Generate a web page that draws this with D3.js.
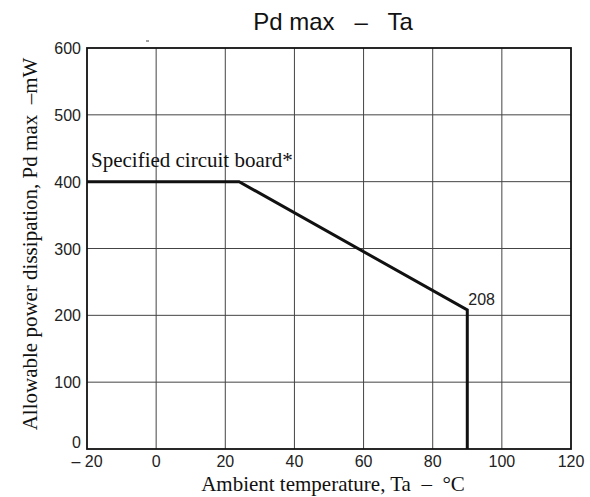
<!DOCTYPE html>
<meta charset="utf-8">
<style>
  body { margin: 0; background: #fff; }
  .sans { font-family: "Liberation Sans", Arial, sans-serif; }
  .serif { font-family: "Liberation Serif", "Times New Roman", serif; }
  .grid line { stroke: #444; stroke-width: 1; }
</style>
<script src="https://d3js.org/d3.v7.min.js"></script>
<svg width="590" height="497"></svg>
<script>
  // derating curve, Ta (°C) vs Pd max (mW)
  var ta = [-20, 24, 90, 90];
  var pd = [400, 400, 208, 0];
  var xTicks = [-20, 0, 20, 40, 60, 80, 100, 120];
  var yTicks = [0, 100, 200, 300, 400, 500, 600];

  var svg = d3.select("svg");
  var pl = 87, pr = 571, pt = 48, pb = 449;

  var x = d3.scaleLinear().domain([-20, 120]).range([pl, pr]);
  var y = d3.scaleLinear().domain([0, 600]).range([pb, pt]);

  var grid = svg.append("g").attr("class", "grid");
  grid.selectAll(".vx").data(xTicks.slice(1, -1)).enter().append("line")
    .attr("x1", d => x(d)).attr("x2", d => x(d))
    .attr("y1", pt).attr("y2", pb);
  grid.selectAll(".hy").data(yTicks.slice(1, -1)).enter().append("line")
    .attr("x1", pl).attr("x2", pr)
    .attr("y1", d => y(d)).attr("y2", d => y(d));

  svg.append("rect")
    .attr("x", pl).attr("y", pt)
    .attr("width", pr - pl).attr("height", pb - pt)
    .attr("fill", "none").attr("stroke", "#111").attr("stroke-width", 1.8);

  // tick labels
  svg.selectAll(".xt").data(xTicks).enter().append("text")
    .attr("class", "sans")
    .attr("x", d => x(d)).attr("y", pb + 18)
    .attr("text-anchor", "middle").attr("font-size", 16).attr("fill", "#222")
    .text(d => d < 0 ? "\u2013 " + Math.abs(d) : d);
  svg.selectAll(".yt").data(yTicks).enter().append("text")
    .attr("class", "sans")
    .attr("x", pl - 6).attr("y", d => d === 0 ? y(d) - 1 : y(d) + 6)
    .attr("text-anchor", "end").attr("font-size", 16).attr("fill", "#222")
    .text(d => d);

  var pts = ta.map((t, i) => [t, pd[i]]);
  var line = d3.line().x(d => x(d[0])).y(d => y(d[1]));
  svg.append("path").datum(pts)
    .attr("d", line)
    .attr("fill", "none").attr("stroke", "#111")
    .attr("stroke-width", 3).attr("stroke-linejoin", "miter");

  svg.append("text").attr("class", "serif")
    .attr("x", x(-20) + 4).attr("y", y(400) - 15)
    .attr("font-size", 21).attr("fill", "#111")
    .text("Specified circuit board*");

  svg.append("text").attr("class", "sans")
    .attr("x", x(ta[2]) + 1).attr("y", y(pd[2]) - 5)
    .attr("font-size", 16).attr("fill", "#222")
    .text(pd[2]);

  // small stray mark above the plot
  svg.append("line")
    .attr("x1", 146).attr("x2", 149).attr("y1", 41).attr("y2", 41)
    .attr("stroke", "#444").attr("stroke-width", 1);

  svg.append("text").attr("class", "sans")
    .attr("x", 333).attr("y", 30)
    .attr("text-anchor", "middle").attr("font-size", 24).attr("fill", "#111")
    .attr("xml:space", "preserve")
    .text("Pd max   \u2013   Ta");

  svg.append("text").attr("class", "serif")
    .attr("x", 333).attr("y", 491)
    .attr("text-anchor", "middle").attr("font-size", 21).attr("fill", "#111")
    .attr("xml:space", "preserve")
    .text("Ambient temperature, Ta  \u2013  \u00b0C");

  svg.append("text").attr("class", "serif")
    .attr("transform", "translate(37,244) rotate(-90)")
    .attr("text-anchor", "middle").attr("font-size", 21).attr("fill", "#111")
    .attr("xml:space", "preserve")
    .text("Allowable power dissipation, Pd max  \u2013mW");
</script>
